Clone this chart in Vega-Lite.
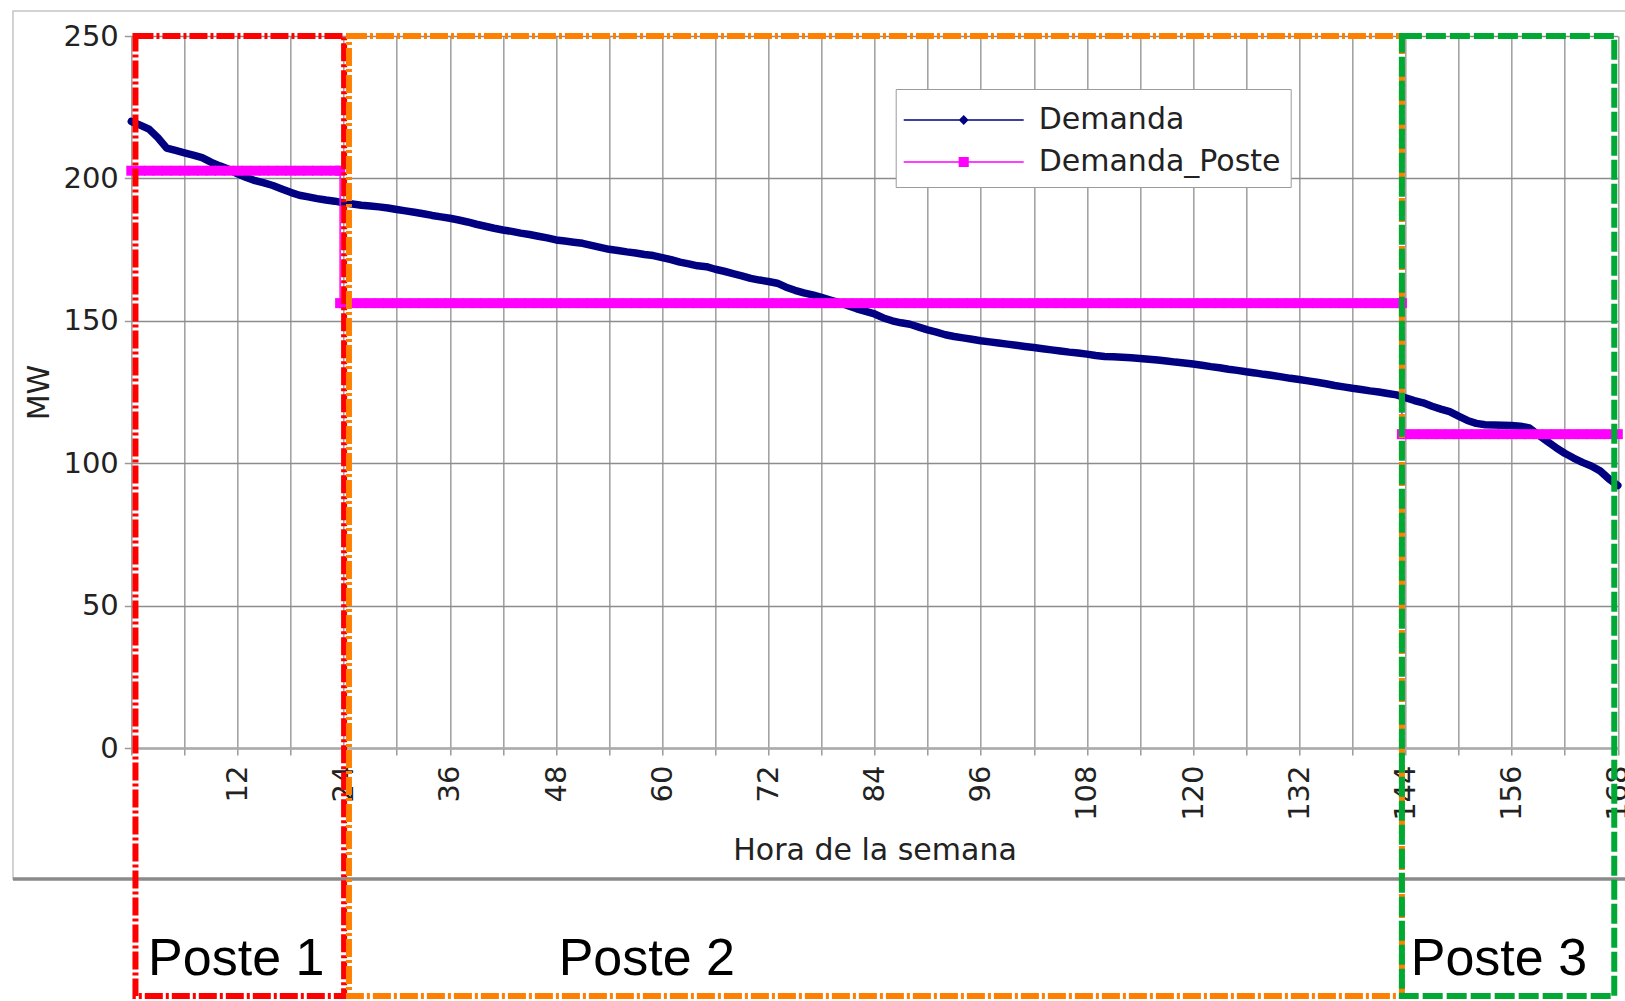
{
  "$schema": "https://vega.github.io/schema/vega-lite/v6.json",
  "width": 1486.5,
  "height": 712,
  "autosize": {"type": "none"},
  "padding": {"left": 131.3, "top": 36, "right": 7.2, "bottom": 253},
  "background": "white",
  "config": {
    "view": {"stroke": null},
    "axis": {"labelFont": "DejaVu Sans", "titleFont": "DejaVu Sans", "labelColor": "#222222", "titleColor": "#222222", "titleFontWeight": "normal"}
  },
  "datasets": {
    "demanda": [
      {"hora":0,"MW":220.0,"serie":"Demanda"},{"hora":1,"MW":218.7,"serie":"Demanda"},{"hora":2,"MW":217.3,"serie":"Demanda"},{"hora":3,"MW":214.3,"serie":"Demanda"},{"hora":4,"MW":210.6,"serie":"Demanda"},{"hora":5,"MW":209.8,"serie":"Demanda"},{"hora":6,"MW":209.0,"serie":"Demanda"},{"hora":7,"MW":208.2,"serie":"Demanda"},{"hora":8,"MW":207.3,"serie":"Demanda"},{"hora":9,"MW":205.7,"serie":"Demanda"},
      {"hora":10,"MW":204.4,"serie":"Demanda"},{"hora":11,"MW":203.2,"serie":"Demanda"},{"hora":12,"MW":201.6,"serie":"Demanda"},{"hora":13,"MW":200.3,"serie":"Demanda"},{"hora":14,"MW":199.2,"serie":"Demanda"},{"hora":15,"MW":198.4,"serie":"Demanda"},{"hora":16,"MW":197.5,"serie":"Demanda"},{"hora":17,"MW":196.3,"serie":"Demanda"},{"hora":18,"MW":195.1,"serie":"Demanda"},{"hora":19,"MW":194.1,"serie":"Demanda"},
      {"hora":20,"MW":193.5,"serie":"Demanda"},{"hora":21,"MW":192.9,"serie":"Demanda"},{"hora":22,"MW":192.4,"serie":"Demanda"},{"hora":23,"MW":192.0,"serie":"Demanda"},{"hora":24,"MW":191.4,"serie":"Demanda"},{"hora":25,"MW":191.0,"serie":"Demanda"},{"hora":26,"MW":190.6,"serie":"Demanda"},{"hora":27,"MW":190.3,"serie":"Demanda"},{"hora":28,"MW":190.0,"serie":"Demanda"},{"hora":29,"MW":189.6,"serie":"Demanda"},
      {"hora":30,"MW":189.1,"serie":"Demanda"},{"hora":31,"MW":188.6,"serie":"Demanda"},{"hora":32,"MW":188.1,"serie":"Demanda"},{"hora":33,"MW":187.6,"serie":"Demanda"},{"hora":34,"MW":187.0,"serie":"Demanda"},{"hora":35,"MW":186.5,"serie":"Demanda"},{"hora":36,"MW":186.0,"serie":"Demanda"},{"hora":37,"MW":185.4,"serie":"Demanda"},{"hora":38,"MW":184.7,"serie":"Demanda"},{"hora":39,"MW":183.9,"serie":"Demanda"},
      {"hora":40,"MW":183.2,"serie":"Demanda"},{"hora":41,"MW":182.5,"serie":"Demanda"},{"hora":42,"MW":181.9,"serie":"Demanda"},{"hora":43,"MW":181.4,"serie":"Demanda"},{"hora":44,"MW":180.8,"serie":"Demanda"},{"hora":45,"MW":180.3,"serie":"Demanda"},{"hora":46,"MW":179.7,"serie":"Demanda"},{"hora":47,"MW":179.1,"serie":"Demanda"},{"hora":48,"MW":178.4,"serie":"Demanda"},{"hora":49,"MW":178.0,"serie":"Demanda"},
      {"hora":50,"MW":177.6,"serie":"Demanda"},{"hora":51,"MW":177.2,"serie":"Demanda"},{"hora":52,"MW":176.5,"serie":"Demanda"},{"hora":53,"MW":175.8,"serie":"Demanda"},{"hora":54,"MW":175.1,"serie":"Demanda"},{"hora":55,"MW":174.7,"serie":"Demanda"},{"hora":56,"MW":174.2,"serie":"Demanda"},{"hora":57,"MW":173.8,"serie":"Demanda"},{"hora":58,"MW":173.3,"serie":"Demanda"},{"hora":59,"MW":172.9,"serie":"Demanda"},
      {"hora":60,"MW":172.2,"serie":"Demanda"},{"hora":61,"MW":171.5,"serie":"Demanda"},{"hora":62,"MW":170.6,"serie":"Demanda"},{"hora":63,"MW":170.0,"serie":"Demanda"},{"hora":64,"MW":169.3,"serie":"Demanda"},{"hora":65,"MW":169.0,"serie":"Demanda"},{"hora":66,"MW":168.1,"serie":"Demanda"},{"hora":67,"MW":167.4,"serie":"Demanda"},{"hora":68,"MW":166.6,"serie":"Demanda"},{"hora":69,"MW":165.8,"serie":"Demanda"},
      {"hora":70,"MW":164.9,"serie":"Demanda"},{"hora":71,"MW":164.3,"serie":"Demanda"},{"hora":72,"MW":163.8,"serie":"Demanda"},{"hora":73,"MW":163.2,"serie":"Demanda"},{"hora":74,"MW":161.8,"serie":"Demanda"},{"hora":75,"MW":160.7,"serie":"Demanda"},{"hora":76,"MW":159.8,"serie":"Demanda"},{"hora":77,"MW":159.1,"serie":"Demanda"},{"hora":78,"MW":158.2,"serie":"Demanda"},{"hora":79,"MW":157.3,"serie":"Demanda"},
      {"hora":80,"MW":156.4,"serie":"Demanda"},{"hora":81,"MW":155.3,"serie":"Demanda"},{"hora":82,"MW":154.2,"serie":"Demanda"},{"hora":83,"MW":153.3,"serie":"Demanda"},{"hora":84,"MW":152.4,"serie":"Demanda"},{"hora":85,"MW":151.0,"serie":"Demanda"},{"hora":86,"MW":150.0,"serie":"Demanda"},{"hora":87,"MW":149.3,"serie":"Demanda"},{"hora":88,"MW":148.8,"serie":"Demanda"},{"hora":89,"MW":147.8,"serie":"Demanda"},
      {"hora":90,"MW":146.8,"serie":"Demanda"},{"hora":91,"MW":146.0,"serie":"Demanda"},{"hora":92,"MW":145.1,"serie":"Demanda"},{"hora":93,"MW":144.5,"serie":"Demanda"},{"hora":94,"MW":144.0,"serie":"Demanda"},{"hora":95,"MW":143.5,"serie":"Demanda"},{"hora":96,"MW":143.0,"serie":"Demanda"},{"hora":97,"MW":142.6,"serie":"Demanda"},{"hora":98,"MW":142.2,"serie":"Demanda"},{"hora":99,"MW":141.8,"serie":"Demanda"},
      {"hora":100,"MW":141.4,"serie":"Demanda"},{"hora":101,"MW":141.0,"serie":"Demanda"},{"hora":102,"MW":140.6,"serie":"Demanda"},{"hora":103,"MW":140.2,"serie":"Demanda"},{"hora":104,"MW":139.8,"serie":"Demanda"},{"hora":105,"MW":139.4,"serie":"Demanda"},{"hora":106,"MW":139.0,"serie":"Demanda"},{"hora":107,"MW":138.7,"serie":"Demanda"},{"hora":108,"MW":138.3,"serie":"Demanda"},{"hora":109,"MW":137.8,"serie":"Demanda"},
      {"hora":110,"MW":137.5,"serie":"Demanda"},{"hora":111,"MW":137.4,"serie":"Demanda"},{"hora":112,"MW":137.2,"serie":"Demanda"},{"hora":113,"MW":137.0,"serie":"Demanda"},{"hora":114,"MW":136.8,"serie":"Demanda"},{"hora":115,"MW":136.5,"serie":"Demanda"},{"hora":116,"MW":136.2,"serie":"Demanda"},{"hora":117,"MW":135.9,"serie":"Demanda"},{"hora":118,"MW":135.5,"serie":"Demanda"},{"hora":119,"MW":135.2,"serie":"Demanda"},
      {"hora":120,"MW":134.8,"serie":"Demanda"},{"hora":121,"MW":134.4,"serie":"Demanda"},{"hora":122,"MW":133.9,"serie":"Demanda"},{"hora":123,"MW":133.5,"serie":"Demanda"},{"hora":124,"MW":133.0,"serie":"Demanda"},{"hora":125,"MW":132.6,"serie":"Demanda"},{"hora":126,"MW":132.1,"serie":"Demanda"},{"hora":127,"MW":131.7,"serie":"Demanda"},{"hora":128,"MW":131.2,"serie":"Demanda"},{"hora":129,"MW":130.8,"serie":"Demanda"},
      {"hora":130,"MW":130.3,"serie":"Demanda"},{"hora":131,"MW":129.8,"serie":"Demanda"},{"hora":132,"MW":129.4,"serie":"Demanda"},{"hora":133,"MW":128.9,"serie":"Demanda"},{"hora":134,"MW":128.4,"serie":"Demanda"},{"hora":135,"MW":127.9,"serie":"Demanda"},{"hora":136,"MW":127.3,"serie":"Demanda"},{"hora":137,"MW":126.8,"serie":"Demanda"},{"hora":138,"MW":126.3,"serie":"Demanda"},{"hora":139,"MW":125.9,"serie":"Demanda"},
      {"hora":140,"MW":125.4,"serie":"Demanda"},{"hora":141,"MW":125.0,"serie":"Demanda"},{"hora":142,"MW":124.5,"serie":"Demanda"},{"hora":143,"MW":124.0,"serie":"Demanda"},{"hora":144,"MW":123.0,"serie":"Demanda"},{"hora":145,"MW":122.0,"serie":"Demanda"},{"hora":146,"MW":121.2,"serie":"Demanda"},{"hora":147,"MW":120.0,"serie":"Demanda"},{"hora":148,"MW":119.0,"serie":"Demanda"},{"hora":149,"MW":118.1,"serie":"Demanda"},
      {"hora":150,"MW":116.5,"serie":"Demanda"},{"hora":151,"MW":115.0,"serie":"Demanda"},{"hora":152,"MW":114.0,"serie":"Demanda"},{"hora":153,"MW":113.5,"serie":"Demanda"},{"hora":154,"MW":113.4,"serie":"Demanda"},{"hora":155,"MW":113.3,"serie":"Demanda"},{"hora":156,"MW":113.2,"serie":"Demanda"},{"hora":157,"MW":113.0,"serie":"Demanda"},{"hora":158,"MW":112.4,"serie":"Demanda"},{"hora":159,"MW":110.0,"serie":"Demanda"},
      {"hora":160,"MW":107.7,"serie":"Demanda"},{"hora":161,"MW":105.5,"serie":"Demanda"},{"hora":162,"MW":103.5,"serie":"Demanda"},{"hora":163,"MW":101.8,"serie":"Demanda"},{"hora":164,"MW":100.3,"serie":"Demanda"},{"hora":165,"MW":99.0,"serie":"Demanda"},{"hora":166,"MW":97.3,"serie":"Demanda"},{"hora":167,"MW":94.5,"serie":"Demanda"},{"hora":168,"MW":92.2,"serie":"Demanda"}
    ],
    "poste": [
      {"hora":0,"MW":202.7,"serie":"Demanda_Poste"},{"hora":1,"MW":202.7,"serie":"Demanda_Poste"},{"hora":2,"MW":202.7,"serie":"Demanda_Poste"},{"hora":3,"MW":202.7,"serie":"Demanda_Poste"},{"hora":4,"MW":202.7,"serie":"Demanda_Poste"},{"hora":5,"MW":202.7,"serie":"Demanda_Poste"},{"hora":6,"MW":202.7,"serie":"Demanda_Poste"},{"hora":7,"MW":202.7,"serie":"Demanda_Poste"},{"hora":8,"MW":202.7,"serie":"Demanda_Poste"},{"hora":9,"MW":202.7,"serie":"Demanda_Poste"},
      {"hora":10,"MW":202.7,"serie":"Demanda_Poste"},{"hora":11,"MW":202.7,"serie":"Demanda_Poste"},{"hora":12,"MW":202.7,"serie":"Demanda_Poste"},{"hora":13,"MW":202.7,"serie":"Demanda_Poste"},{"hora":14,"MW":202.7,"serie":"Demanda_Poste"},{"hora":15,"MW":202.7,"serie":"Demanda_Poste"},{"hora":16,"MW":202.7,"serie":"Demanda_Poste"},{"hora":17,"MW":202.7,"serie":"Demanda_Poste"},{"hora":18,"MW":202.7,"serie":"Demanda_Poste"},{"hora":19,"MW":202.7,"serie":"Demanda_Poste"},
      {"hora":20,"MW":202.7,"serie":"Demanda_Poste"},{"hora":21,"MW":202.7,"serie":"Demanda_Poste"},{"hora":22,"MW":202.7,"serie":"Demanda_Poste"},{"hora":23,"MW":202.7,"serie":"Demanda_Poste"},{"hora":23.6,"MW":202.7,"serie":"Demanda_Poste"},
      {"hora":23.6,"MW":156.2,"serie":"Demanda_Poste"},{"hora":24,"MW":156.2,"serie":"Demanda_Poste"},{"hora":25,"MW":156.2,"serie":"Demanda_Poste"},{"hora":26,"MW":156.2,"serie":"Demanda_Poste"},{"hora":27,"MW":156.2,"serie":"Demanda_Poste"},{"hora":28,"MW":156.2,"serie":"Demanda_Poste"},{"hora":29,"MW":156.2,"serie":"Demanda_Poste"},
      {"hora":30,"MW":156.2,"serie":"Demanda_Poste"},{"hora":31,"MW":156.2,"serie":"Demanda_Poste"},{"hora":32,"MW":156.2,"serie":"Demanda_Poste"},{"hora":33,"MW":156.2,"serie":"Demanda_Poste"},{"hora":34,"MW":156.2,"serie":"Demanda_Poste"},{"hora":35,"MW":156.2,"serie":"Demanda_Poste"},{"hora":36,"MW":156.2,"serie":"Demanda_Poste"},{"hora":37,"MW":156.2,"serie":"Demanda_Poste"},{"hora":38,"MW":156.2,"serie":"Demanda_Poste"},{"hora":39,"MW":156.2,"serie":"Demanda_Poste"},
      {"hora":40,"MW":156.2,"serie":"Demanda_Poste"},{"hora":41,"MW":156.2,"serie":"Demanda_Poste"},{"hora":42,"MW":156.2,"serie":"Demanda_Poste"},{"hora":43,"MW":156.2,"serie":"Demanda_Poste"},{"hora":44,"MW":156.2,"serie":"Demanda_Poste"},{"hora":45,"MW":156.2,"serie":"Demanda_Poste"},{"hora":46,"MW":156.2,"serie":"Demanda_Poste"},{"hora":47,"MW":156.2,"serie":"Demanda_Poste"},{"hora":48,"MW":156.2,"serie":"Demanda_Poste"},{"hora":49,"MW":156.2,"serie":"Demanda_Poste"},
      {"hora":50,"MW":156.2,"serie":"Demanda_Poste"},{"hora":51,"MW":156.2,"serie":"Demanda_Poste"},{"hora":52,"MW":156.2,"serie":"Demanda_Poste"},{"hora":53,"MW":156.2,"serie":"Demanda_Poste"},{"hora":54,"MW":156.2,"serie":"Demanda_Poste"},{"hora":55,"MW":156.2,"serie":"Demanda_Poste"},{"hora":56,"MW":156.2,"serie":"Demanda_Poste"},{"hora":57,"MW":156.2,"serie":"Demanda_Poste"},{"hora":58,"MW":156.2,"serie":"Demanda_Poste"},{"hora":59,"MW":156.2,"serie":"Demanda_Poste"},
      {"hora":60,"MW":156.2,"serie":"Demanda_Poste"},{"hora":61,"MW":156.2,"serie":"Demanda_Poste"},{"hora":62,"MW":156.2,"serie":"Demanda_Poste"},{"hora":63,"MW":156.2,"serie":"Demanda_Poste"},{"hora":64,"MW":156.2,"serie":"Demanda_Poste"},{"hora":65,"MW":156.2,"serie":"Demanda_Poste"},{"hora":66,"MW":156.2,"serie":"Demanda_Poste"},{"hora":67,"MW":156.2,"serie":"Demanda_Poste"},{"hora":68,"MW":156.2,"serie":"Demanda_Poste"},{"hora":69,"MW":156.2,"serie":"Demanda_Poste"},
      {"hora":70,"MW":156.2,"serie":"Demanda_Poste"},{"hora":71,"MW":156.2,"serie":"Demanda_Poste"},{"hora":72,"MW":156.2,"serie":"Demanda_Poste"},{"hora":73,"MW":156.2,"serie":"Demanda_Poste"},{"hora":74,"MW":156.2,"serie":"Demanda_Poste"},{"hora":75,"MW":156.2,"serie":"Demanda_Poste"},{"hora":76,"MW":156.2,"serie":"Demanda_Poste"},{"hora":77,"MW":156.2,"serie":"Demanda_Poste"},{"hora":78,"MW":156.2,"serie":"Demanda_Poste"},{"hora":79,"MW":156.2,"serie":"Demanda_Poste"},
      {"hora":80,"MW":156.2,"serie":"Demanda_Poste"},{"hora":81,"MW":156.2,"serie":"Demanda_Poste"},{"hora":82,"MW":156.2,"serie":"Demanda_Poste"},{"hora":83,"MW":156.2,"serie":"Demanda_Poste"},{"hora":84,"MW":156.2,"serie":"Demanda_Poste"},{"hora":85,"MW":156.2,"serie":"Demanda_Poste"},{"hora":86,"MW":156.2,"serie":"Demanda_Poste"},{"hora":87,"MW":156.2,"serie":"Demanda_Poste"},{"hora":88,"MW":156.2,"serie":"Demanda_Poste"},{"hora":89,"MW":156.2,"serie":"Demanda_Poste"},
      {"hora":90,"MW":156.2,"serie":"Demanda_Poste"},{"hora":91,"MW":156.2,"serie":"Demanda_Poste"},{"hora":92,"MW":156.2,"serie":"Demanda_Poste"},{"hora":93,"MW":156.2,"serie":"Demanda_Poste"},{"hora":94,"MW":156.2,"serie":"Demanda_Poste"},{"hora":95,"MW":156.2,"serie":"Demanda_Poste"},{"hora":96,"MW":156.2,"serie":"Demanda_Poste"},{"hora":97,"MW":156.2,"serie":"Demanda_Poste"},{"hora":98,"MW":156.2,"serie":"Demanda_Poste"},{"hora":99,"MW":156.2,"serie":"Demanda_Poste"},
      {"hora":100,"MW":156.2,"serie":"Demanda_Poste"},{"hora":101,"MW":156.2,"serie":"Demanda_Poste"},{"hora":102,"MW":156.2,"serie":"Demanda_Poste"},{"hora":103,"MW":156.2,"serie":"Demanda_Poste"},{"hora":104,"MW":156.2,"serie":"Demanda_Poste"},{"hora":105,"MW":156.2,"serie":"Demanda_Poste"},{"hora":106,"MW":156.2,"serie":"Demanda_Poste"},{"hora":107,"MW":156.2,"serie":"Demanda_Poste"},{"hora":108,"MW":156.2,"serie":"Demanda_Poste"},{"hora":109,"MW":156.2,"serie":"Demanda_Poste"},
      {"hora":110,"MW":156.2,"serie":"Demanda_Poste"},{"hora":111,"MW":156.2,"serie":"Demanda_Poste"},{"hora":112,"MW":156.2,"serie":"Demanda_Poste"},{"hora":113,"MW":156.2,"serie":"Demanda_Poste"},{"hora":114,"MW":156.2,"serie":"Demanda_Poste"},{"hora":115,"MW":156.2,"serie":"Demanda_Poste"},{"hora":116,"MW":156.2,"serie":"Demanda_Poste"},{"hora":117,"MW":156.2,"serie":"Demanda_Poste"},{"hora":118,"MW":156.2,"serie":"Demanda_Poste"},{"hora":119,"MW":156.2,"serie":"Demanda_Poste"},
      {"hora":120,"MW":156.2,"serie":"Demanda_Poste"},{"hora":121,"MW":156.2,"serie":"Demanda_Poste"},{"hora":122,"MW":156.2,"serie":"Demanda_Poste"},{"hora":123,"MW":156.2,"serie":"Demanda_Poste"},{"hora":124,"MW":156.2,"serie":"Demanda_Poste"},{"hora":125,"MW":156.2,"serie":"Demanda_Poste"},{"hora":126,"MW":156.2,"serie":"Demanda_Poste"},{"hora":127,"MW":156.2,"serie":"Demanda_Poste"},{"hora":128,"MW":156.2,"serie":"Demanda_Poste"},{"hora":129,"MW":156.2,"serie":"Demanda_Poste"},
      {"hora":130,"MW":156.2,"serie":"Demanda_Poste"},{"hora":131,"MW":156.2,"serie":"Demanda_Poste"},{"hora":132,"MW":156.2,"serie":"Demanda_Poste"},{"hora":133,"MW":156.2,"serie":"Demanda_Poste"},{"hora":134,"MW":156.2,"serie":"Demanda_Poste"},{"hora":135,"MW":156.2,"serie":"Demanda_Poste"},{"hora":136,"MW":156.2,"serie":"Demanda_Poste"},{"hora":137,"MW":156.2,"serie":"Demanda_Poste"},{"hora":138,"MW":156.2,"serie":"Demanda_Poste"},{"hora":139,"MW":156.2,"serie":"Demanda_Poste"},
      {"hora":140,"MW":156.2,"serie":"Demanda_Poste"},{"hora":141,"MW":156.2,"serie":"Demanda_Poste"},{"hora":142,"MW":156.2,"serie":"Demanda_Poste"},{"hora":143,"MW":156.2,"serie":"Demanda_Poste"},{"hora":143.6,"MW":156.2,"serie":"Demanda_Poste"},
      {"hora":143.6,"MW":110.2,"serie":"Demanda_Poste"},{"hora":144,"MW":110.2,"serie":"Demanda_Poste"},{"hora":145,"MW":110.2,"serie":"Demanda_Poste"},{"hora":146,"MW":110.2,"serie":"Demanda_Poste"},{"hora":147,"MW":110.2,"serie":"Demanda_Poste"},{"hora":148,"MW":110.2,"serie":"Demanda_Poste"},{"hora":149,"MW":110.2,"serie":"Demanda_Poste"},
      {"hora":150,"MW":110.2,"serie":"Demanda_Poste"},{"hora":151,"MW":110.2,"serie":"Demanda_Poste"},{"hora":152,"MW":110.2,"serie":"Demanda_Poste"},{"hora":153,"MW":110.2,"serie":"Demanda_Poste"},{"hora":154,"MW":110.2,"serie":"Demanda_Poste"},{"hora":155,"MW":110.2,"serie":"Demanda_Poste"},{"hora":156,"MW":110.2,"serie":"Demanda_Poste"},{"hora":157,"MW":110.2,"serie":"Demanda_Poste"},{"hora":158,"MW":110.2,"serie":"Demanda_Poste"},{"hora":159,"MW":110.2,"serie":"Demanda_Poste"},
      {"hora":160,"MW":110.2,"serie":"Demanda_Poste"},{"hora":161,"MW":110.2,"serie":"Demanda_Poste"},{"hora":162,"MW":110.2,"serie":"Demanda_Poste"},{"hora":163,"MW":110.2,"serie":"Demanda_Poste"},{"hora":164,"MW":110.2,"serie":"Demanda_Poste"},{"hora":165,"MW":110.2,"serie":"Demanda_Poste"},{"hora":166,"MW":110.2,"serie":"Demanda_Poste"},{"hora":167,"MW":110.2,"serie":"Demanda_Poste"},{"hora":168,"MW":110.2,"serie":"Demanda_Poste"}
    ],
    "postes": [
      {"poste":"Poste 1","inicio":0.47,"fin":24.05},
      {"poste":"Poste 2","inicio":24.6,"fin":143.6},
      {"poste":"Poste 3","inicio":143.6,"fin":167.6}
    ]
  },
  "layer": [
    {
      "data": {"values": [{}]},
      "mark": {"type": "rect", "fill": null, "stroke": "#c4c4c4", "strokeWidth": 1.5},
      "encoding": {
        "x": {"datum": -13.37, "type": "quantitative", "scale": {"domain": [0, 168], "nice": false, "zero": false}},
        "x2": {"datum": 171},
        "y": {"datum": 258.8, "type": "quantitative", "scale": {"domain": [0, 250], "nice": false}},
        "y2": {"datum": -46}
      }
    },
    {
      "data": {"values": [{}]},
      "mark": {"type": "rule", "color": "#8a8a8a", "strokeWidth": 3.5},
      "encoding": {
        "x": {"datum": -13.37, "type": "quantitative"},
        "x2": {"datum": 171},
        "y": {"datum": -46, "type": "quantitative"}
      }
    },
    {
      "data": {"name": "demanda"},
      "mark": {"type": "line", "strokeWidth": 7.5, "strokeJoin": "round", "strokeCap": "round"},
      "encoding": {
        "x": {
          "field": "hora", "type": "quantitative",
          "scale": {"domain": [0, 168], "nice": false, "zero": false},
          "axis": {
            "title": "Hora de la semana",
            "titleFontSize": 30,
            "titlePadding": 15,
            "values": [0,6,12,18,24,30,36,42,48,54,60,66,72,78,84,90,96,102,108,114,120,126,132,138,144,150,156,162,168],
            "labelExpr": "datum.value % 12 === 0 && datum.value > 0 ? datum.label : ''",
            "labelAngle": -90,
            "labelFontSize": 29,
            "labelPadding": 10,
            "labelOverlap": false,
            "labelFlush": false,
            "tickSize": 7,
            "tickColor": "#9a9a9a",
            "tickWidth": 1.5,
            "domainColor": "#ababab",
            "domainWidth": 2.5,
            "grid": true,
            "gridColor": "#a3a3a3",
            "gridWidth": 1.6
          }
        },
        "y": {
          "field": "MW", "type": "quantitative",
          "scale": {"domain": [0, 250], "nice": false},
          "axis": {
            "title": "MW",
            "titleFontSize": 30,
            "titlePadding": 8,
            "values": [0,50,100,150,200,250],
            "labelFontSize": 29,
            "labelPadding": 6,
            "tickSize": 7,
            "tickColor": "#9a9a9a",
            "tickWidth": 1.5,
            "domain": false,
            "grid": true,
            "gridColor": "#8c8c8c",
            "gridWidth": 1.6
          }
        },
        "color": {
          "field": "serie", "type": "nominal",
          "scale": {"domain": ["Demanda", "Demanda_Poste"], "range": ["#000080", "#ff00ff"]},
          "legend": {
            "orient": "none",
            "legendX": 764.4,
            "legendY": 53,
            "title": null,
            "padding": 10,
            "fillColor": "white",
            "strokeColor": "#9c9c9c",
            "labelFont": "DejaVu Sans",
            "labelFontSize": 30,
            "labelColor": "#222222",
            "labelLimit": 400,
            "labelOffset": 54,
            "symbolSize": 1600,
            "symbolOffset": 37,
            "rowPadding": 6,
            "encode": {
              "symbols": {
                "update": {
                  "shape": {"signal": "datum.value === 'Demanda' ? 'M-3,0H3M0,-0.2L0.2,0L0,0.2L-0.2,0Z' : 'M-3,0H3M-0.22,-0.22H0.22V0.22H-0.22Z'"},
                  "fill": {"signal": "scale('color', datum.value)"},
                  "stroke": {"signal": "scale('color', datum.value)"},
                  "strokeWidth": {"value": 1.3},
                  "size": {"value": 1600},
                  "opacity": {"value": 1}
                }
              }
            }
          }
        }
      }
    },
    {
      "data": {"name": "poste"},
      "mark": {"type": "line", "strokeWidth": 1.5},
      "encoding": {
        "x": {"field": "hora", "type": "quantitative"},
        "y": {"field": "MW", "type": "quantitative"},
        "color": {"field": "serie", "type": "nominal"}
      }
    },
    {
      "data": {"name": "poste"},
      "mark": {"type": "point", "shape": "square", "filled": true, "size": 100, "opacity": 1},
      "encoding": {
        "x": {"field": "hora", "type": "quantitative"},
        "y": {"field": "MW", "type": "quantitative"},
        "color": {"field": "serie", "type": "nominal"}
      }
    },
    {
      "data": {"name": "postes"},
      "transform": [{"filter": "datum.poste === 'Poste 1'"}],
      "mark": {"type": "rect", "fill": null, "stroke": "#ff0000", "strokeWidth": 6, "strokeDash": [18, 3, 3, 3]},
      "encoding": {
        "x": {"field": "inicio", "type": "quantitative"},
        "x2": {"field": "fin"},
        "y": {"datum": 250, "type": "quantitative"},
        "y2": {"datum": -87.1}
      }
    },
    {
      "data": {"name": "postes"},
      "transform": [{"filter": "datum.poste === 'Poste 2'"}],
      "mark": {"type": "rect", "fill": null, "stroke": "#ff8000", "strokeWidth": 6, "strokeDash": [18, 3, 3, 3]},
      "encoding": {
        "x": {"field": "inicio", "type": "quantitative"},
        "x2": {"field": "fin"},
        "y": {"datum": 250, "type": "quantitative"},
        "y2": {"datum": -87.1}
      }
    },
    {
      "data": {"name": "postes"},
      "transform": [{"filter": "datum.poste === 'Poste 3'"}],
      "mark": {"type": "rect", "fill": null, "stroke": "#00a933", "strokeWidth": 6, "strokeDash": [20, 4]},
      "encoding": {
        "x": {"field": "inicio", "type": "quantitative"},
        "x2": {"field": "fin"},
        "y": {"datum": 250, "type": "quantitative"},
        "y2": {"datum": -87.1}
      }
    },
    {
      "data": {"values": [{"poste": "Poste 1"}]},
      "mark": {"type": "text", "font": "Liberation Sans", "fontSize": 52, "align": "left", "baseline": "alphabetic", "color": "black"},
      "encoding": {
        "x": {"datum": 1.9, "type": "quantitative"},
        "y": {"datum": -79.7, "type": "quantitative"},
        "text": {"field": "poste"}
      }
    },
    {
      "data": {"values": [{"poste": "Poste 2"}]},
      "mark": {"type": "text", "font": "Liberation Sans", "fontSize": 52, "align": "left", "baseline": "alphabetic", "color": "black"},
      "encoding": {
        "x": {"datum": 48.3, "type": "quantitative"},
        "y": {"datum": -79.7, "type": "quantitative"},
        "text": {"field": "poste"}
      }
    },
    {
      "data": {"values": [{"poste": "Poste 3"}]},
      "mark": {"type": "text", "font": "Liberation Sans", "fontSize": 52, "align": "left", "baseline": "alphabetic", "color": "black"},
      "encoding": {
        "x": {"datum": 144.6, "type": "quantitative"},
        "y": {"datum": -79.7, "type": "quantitative"},
        "text": {"field": "poste"}
      }
    }
  ]
}
